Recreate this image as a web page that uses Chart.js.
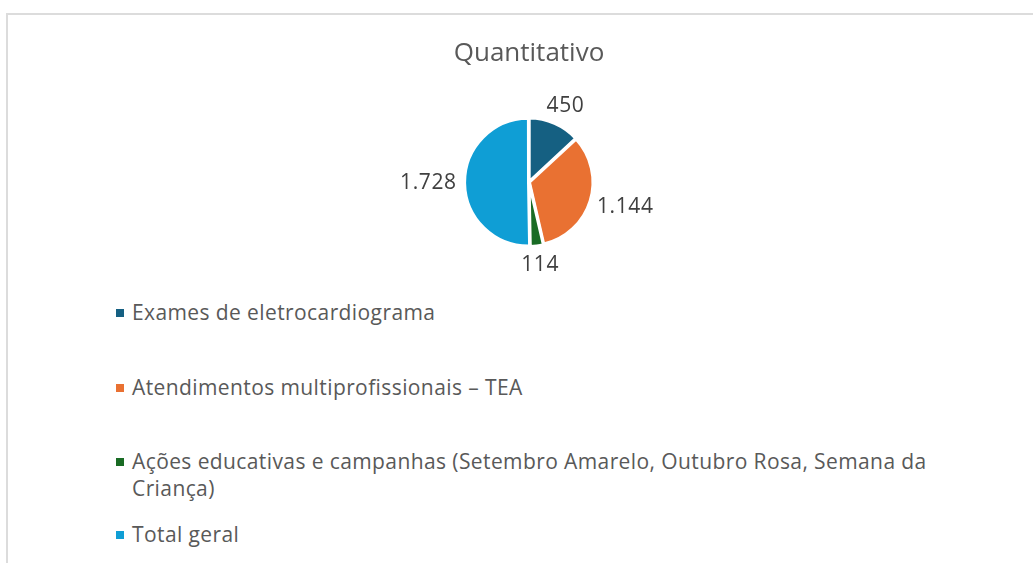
<!DOCTYPE html>
<html lang="pt">

<head>
  <meta charset="UTF-8" />
  <title>Quantitativo</title>
  <style>
    body {
      margin: 0;
      width: 1033px;
      height: 563px;
      overflow: hidden;
      background: #ffffff;
      font-family: 'Open Sans', 'Noto Sans', sans-serif;
      position: relative;
    }

    .frame {
      position: absolute;
      left: 6px;
      top: 13px;
      width: 1100px;
      height: 700px;
      border: 2px solid #dcdcdc;
      box-sizing: border-box;
    }

    .chart-box {
      position: absolute;
      left: 0;
      top: 0;
      width: 1058px;
      height: 290px;
    }

    #legend {
      position: absolute;
      left: 116px;
      top: 299px;
      color: #595959;
      font-size: 21px;
      letter-spacing: 0.4px;
      line-height: 27px;
    }

    .item {
      display: flex;
      align-items: flex-start;
    }

    .item .sw {
      width: 8px;
      height: 8px;
      margin-top: 10px;
      margin-right: 8px;
      flex: none;
    }

    .item .tx {
      max-width: 840px;
    }

    /* Excel spreads the legend entries unevenly */
    .item:nth-child(2) { margin-top: 48px; }
    .item:nth-child(3) { margin-top: 47px; }
    .item:nth-child(4) { margin-top: 19px; }
  </style>
</head>

<body>
  <div class="frame"></div>
  <div class="chart-box">
    <canvas id="pieChart" width="1058" height="290"></canvas>
  </div>
  <div id="legend"></div>

  <script src="https://cdn.jsdelivr.net/npm/chart.js"></script>
  <script>
    const categories = [
      'Exames de eletrocardiograma',
      'Atendimentos multiprofissionais – TEA',
      'Ações educativas e campanhas (Setembro Amarelo, Outubro Rosa, Semana da Criança)',
      'Total geral'
    ];
    const values = [450, 1144, 114, 1728];
    const colors = ['#156082', '#E97132', '#196B24', '#0F9ED5'];

    // 1728 -> "1.728"
    function fmt(n) {
      return String(n).replace(/\B(?=(\d{3})+(?!\d))/g, '.');
    }

    // value labels outside the slice end
    const outsideLabels = {
      id: 'outsideLabels',
      afterDatasetsDraw(chart) {
        const ctx = chart.ctx;
        const meta = chart.getDatasetMeta(0);
        ctx.save();
        ctx.font = '21px "Open Sans", "Noto Sans", sans-serif';
        ctx.letterSpacing = '0.6px';
        ctx.fillStyle = '#404040';
        ctx.textAlign = 'center';
        ctx.textBaseline = 'middle';
        meta.data.forEach((arc, i) => {
          const p = arc.getProps(['x', 'y', 'startAngle', 'endAngle', 'outerRadius'], true);
          const mid = (p.startAngle + p.endAngle) / 2;
          const cos = Math.cos(mid), sin = Math.sin(mid);
          const text = fmt(values[i]);
          const w = ctx.measureText(text).width;
          const h = 22;
          const r = p.outerRadius + 9;
          const x = p.x + cos * r + cos * w / 2;
          const y = p.y + sin * r + sin * h / 2;
          ctx.fillText(text, x, y);
        });
        ctx.restore();
      }
    };

    const chart = new Chart(document.getElementById('pieChart'), {
      type: 'pie',
      data: {
        labels: categories,
        datasets: [{
          data: values,
          backgroundColor: colors,
          borderColor: '#ffffff',
          borderWidth: 3,
          offset: 2
        }]
      },
      options: {
        responsive: false,
        animation: false,
        layout: { padding: { bottom: 42 } },
        plugins: {
          legend: { display: false },
          tooltip: { enabled: false },
          title: {
            display: true,
            text: 'Quantitativo',
            color: '#595959',
            font: { family: '"Open Sans", "Noto Sans", sans-serif', size: 26, weight: 'normal' },
            padding: { top: 38, bottom: 47 }
          }
        }
      },
      plugins: [outsideLabels]
    });

    // legend built from the same arrays
    const legend = document.getElementById('legend');
    categories.forEach((name, i) => {
      const item = document.createElement('div');
      item.className = 'item';
      const sw = document.createElement('span');
      sw.className = 'sw';
      sw.style.background = colors[i];
      const tx = document.createElement('span');
      tx.className = 'tx';
      tx.textContent = name;
      item.appendChild(sw);
      item.appendChild(tx);
      legend.appendChild(item);
    });
  </script>
</body>

</html>
